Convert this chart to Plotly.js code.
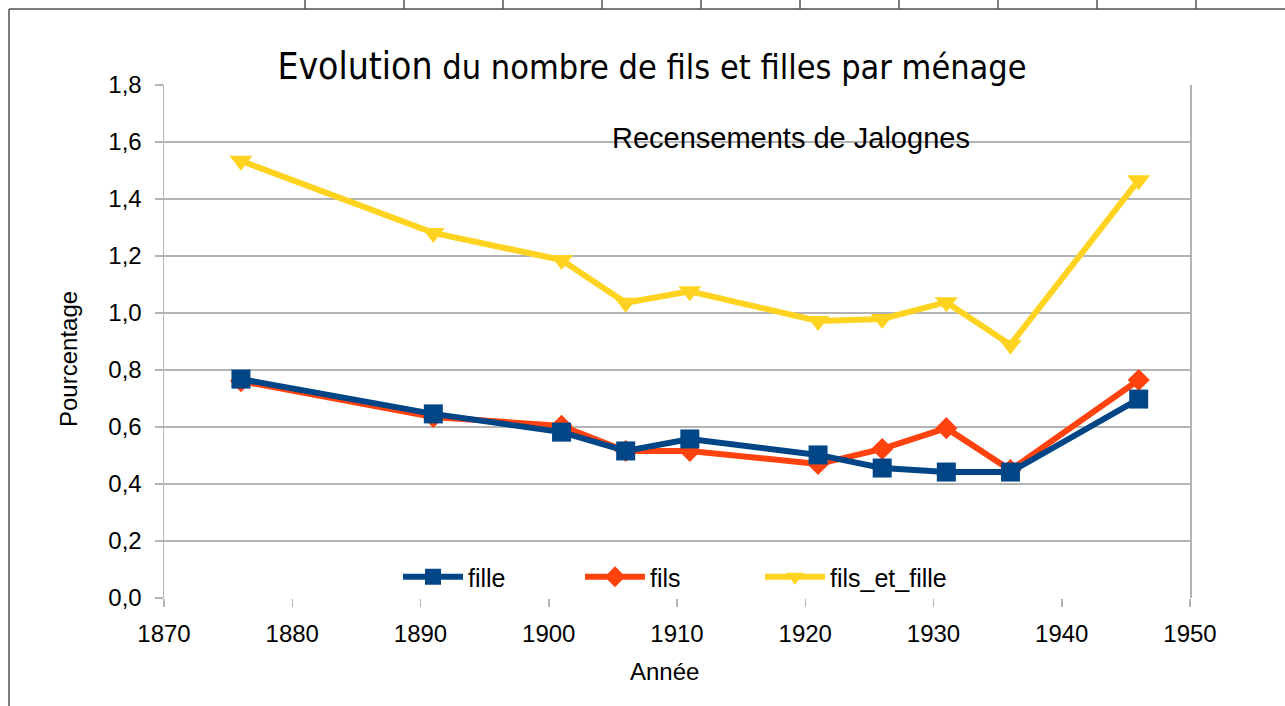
<!DOCTYPE html>
<html>
<head>
<meta charset="utf-8">
<script src="https://cdn.plot.ly/plotly-3.0.1.min.js"></script>
<style>html,body{margin:0;padding:0;background:#fff;}#chart{width:1285px;height:706px;}</style>
</head>
<body>
<div id="chart"></div>
<script>
const years = [1876, 1891, 1901, 1906, 1911, 1921, 1926, 1931, 1936, 1946];
const fille = [0.768, 0.646, 0.582, 0.516, 0.558, 0.502, 0.456, 0.442, 0.442, 0.698];
const fils = [0.761, 0.635, 0.604, 0.516, 0.516, 0.470, 0.523, 0.596, 0.449, 0.765];
const filsEtFille = [1.534, 1.281, 1.186, 1.036, 1.076, 0.972, 0.979, 1.038, 0.889, 1.466];
const yTickVals = [0, 0.2, 0.4, 0.6, 0.8, 1.0, 1.2, 1.4, 1.6, 1.8];
const yTickText = ["0,0", "0,2", "0,4", "0,6", "0,8", "1,0", "1,2", "1,4", "1,6", "1,8"];
const xTickVals = [1870, 1880, 1890, 1900, 1910, 1920, 1930, 1940, 1950];

const W = 1285, H = 706, L = 164, R = 95, T = 85, B = 108;
const px = x => (x - L) / (W - L - R);
const py = y => (H - B - y) / (H - T - B);

const traces = [
  {x: years, y: filsEtFille, name: 'fils_et_fille', mode: 'lines+markers', type: 'scatter', legend: 'legend3',
   line: {color: '#ffd320', width: 6}, marker: {symbol: 'triangle-down', size: 20, color: '#ffd320'}},
  {x: years, y: fils, name: 'fils', mode: 'lines+markers', type: 'scatter', legend: 'legend2',
   line: {color: '#ff420e', width: 6}, marker: {symbol: 'diamond', size: 17, color: '#ff420e'}},
  {x: years, y: fille, name: 'fille', mode: 'lines+markers', type: 'scatter', legend: 'legend',
   line: {color: '#004586', width: 6}, marker: {symbol: 'square', size: 19, color: '#004586'}}
];

const borderCols = [305, 404, 503, 602, 701, 800, 899, 998, 1097, 1196];
const shapes = [
  {type: 'line', xref: 'paper', yref: 'paper', x0: px(9), x1: px(1285), y0: py(9), y1: py(9), line: {color: '#7a7a7a', width: 2}},
  {type: 'line', xref: 'paper', yref: 'paper', x0: px(9), x1: px(9), y0: py(9), y1: py(706), line: {color: '#7a7a7a', width: 2}}
];
borderCols.forEach(c => shapes.push({type: 'line', xref: 'paper', yref: 'paper', x0: px(c), x1: px(c), y0: py(0), y1: py(9), line: {color: '#555', width: 1.5}}));

const legendBase = x => ({
  orientation: 'h', x: px(x), xanchor: 'left', y: py(577), yanchor: 'middle',
  itemwidth: 60, font: {size: 25}, bgcolor: 'rgba(0,0,0,0)'
});

const layout = {
  width: W, height: H,
  margin: {l: L, r: R, t: T, b: B},
  paper_bgcolor: '#ffffff', plot_bgcolor: '#ffffff',
  font: {family: 'Liberation Sans, Arial, sans-serif', color: '#000', size: 24},
  title: {
    text: '<span style="font-size:37px">Evolution</span> du nombre de fils et filles par ménage',
    font: {family: 'Liberation Sans Narrow, DejaVu Sans Condensed, sans-serif', size: 34, color: '#000'},
    x: 652 / W, xanchor: 'center', xref: 'container',
    y: 1 - 67 / H, yanchor: 'middle', yref: 'container'
  },
  xaxis: {
    range: [1870, 1950], tickvals: xTickVals, ticktext: xTickVals.map(String),
    showgrid: false, zeroline: false, showline: false,
    ticks: 'outside', ticklen: 8, tickcolor: '#b3b3b3', tickwidth: 1.5, ticklabelstandoff: 6,
    tickfont: {size: 24}
  },
  yaxis: {
    range: [0, 1.8], tickvals: yTickVals, ticktext: yTickText,
    showgrid: true, gridcolor: '#b3b3b3', gridwidth: 1.5, zeroline: false,
    showline: true, linecolor: '#b3b3b3', linewidth: 1.5, mirror: true,
    ticks: 'outside', ticklen: 8, tickcolor: '#b3b3b3', tickwidth: 1.5, ticklabelstandoff: 8,
    tickfont: {size: 24}
  },
  legend: legendBase(398),
  legend2: legendBase(580),
  legend3: legendBase(760),
  shapes: shapes,
  annotations: [
    {text: 'Recensements de Jalognes', xref: 'paper', yref: 'paper', x: px(791), y: py(138),
     xanchor: 'center', yanchor: 'middle', showarrow: false, font: {size: 29}},
    {text: 'Pourcentage', xref: 'paper', yref: 'paper', x: px(68), y: py(359), textangle: -90,
     xanchor: 'center', yanchor: 'middle', showarrow: false, font: {size: 24}},
    {text: 'Année', xref: 'paper', yref: 'paper', x: px(664), y: py(671),
     xanchor: 'center', yanchor: 'middle', showarrow: false, font: {size: 24}}
  ],
  showlegend: true
};

Plotly.newPlot('chart', traces, layout, {displayModeBar: false, staticPlot: true});
</script>
</body>
</html>
